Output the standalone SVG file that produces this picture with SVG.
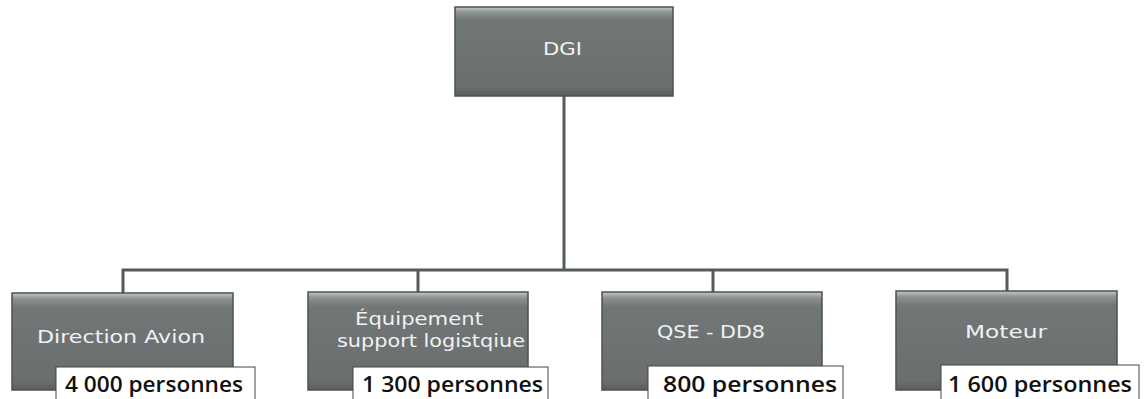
<svg xmlns="http://www.w3.org/2000/svg" width="1145" height="399" viewBox="0 0 1145 399">
<defs>
<linearGradient id="g" x1="0" y1="0" x2="0" y2="1">
<stop offset="0" stop-color="#c4c8c8"/>
<stop offset="0.06" stop-color="#8c9191"/>
<stop offset="0.15" stop-color="#717676"/>
<stop offset="0.9" stop-color="#6a6e6e"/>
<stop offset="1" stop-color="#5a5e5e"/>
</linearGradient>
<style>
.box{fill:url(#g);stroke:#4d5151;stroke-width:1.5}
.t{font-family:"DejaVu Sans","Open Sans",sans-serif;font-size:17px;fill:#f2f2f2}
.lb{fill:#ffffff;stroke:#444;stroke-width:1}
.lt{font-family:"Open Sans","Liberation Sans",sans-serif;font-size:21px;font-weight:600;fill:#111}
.c{fill:none;stroke:#555a5a;stroke-width:3}
</style>
</defs>
<g id="connectors">
<path class="c" d="M564 96 V270"/>
<path class="c" d="M123 293 V270 H1007 V292"/>
<path class="c" d="M418 270 V292"/>
<path class="c" d="M713 270 V292"/>
</g>
<g id="dgi">
<rect class="box" x="455" y="7" width="218" height="89"/>
<text class="t" x="543" y="55" textLength="39" lengthAdjust="spacingAndGlyphs">DGI</text>
</g>
<g id="direction-avion">
<rect class="box" x="12" y="293" width="221" height="97"/>
<text class="t" x="37" y="343" textLength="168" lengthAdjust="spacingAndGlyphs">Direction Avion</text>
<rect class="lb" x="56" y="367" width="199" height="33"/>
<text class="lt" x="65" y="392" textLength="178" lengthAdjust="spacingAndGlyphs">4 000 personnes</text>
</g>
<g id="equipement">
<rect class="box" x="308" y="292" width="220" height="98"/>
<text class="t" x="355" y="325" textLength="128" lengthAdjust="spacingAndGlyphs">Équipement</text>
<text class="t" x="337" y="347" textLength="188" lengthAdjust="spacingAndGlyphs">support logistqiue</text>
<rect class="lb" x="353" y="367" width="195" height="33"/>
<text class="lt" x="362" y="392" textLength="181" lengthAdjust="spacingAndGlyphs">1 300 personnes</text>
</g>
<g id="qse">
<rect class="box" x="602" y="292" width="220" height="98"/>
<text class="t" x="657" y="338" textLength="108" lengthAdjust="spacingAndGlyphs">QSE - DD8</text>
<rect class="lb" x="648" y="366" width="195" height="34"/>
<text class="lt" x="663" y="392" textLength="174" lengthAdjust="spacingAndGlyphs">800 personnes</text>
</g>
<g id="moteur">
<rect class="box" x="896" y="291" width="221" height="99"/>
<text class="t" x="965" y="338" textLength="82" lengthAdjust="spacingAndGlyphs">Moteur</text>
<rect class="lb" x="941" y="365" width="198" height="35"/>
<text class="lt" x="948" y="392" textLength="184" lengthAdjust="spacingAndGlyphs">1 600 personnes</text>
</g>
</svg>
